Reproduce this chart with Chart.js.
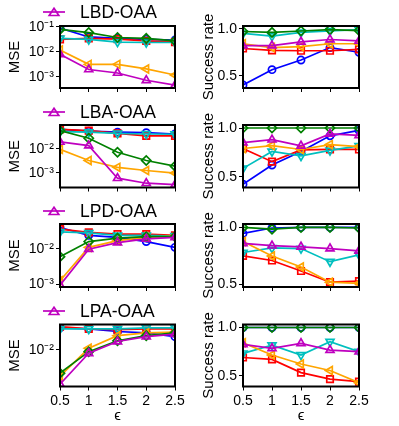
<!DOCTYPE html>
<html><head><meta charset="utf-8">
<script src="https://cdn.jsdelivr.net/npm/chart.js@4/dist/chart.umd.min.js"></script>
<style>
html,body{margin:0;padding:0;background:#fff;}
#wrap{position:relative;width:399px;height:426px;overflow:hidden;background:#fff;}
#wrap canvas{position:absolute;left:0;top:0;}
.leg{position:absolute;left:0;width:399px;height:20px;font-family:"Liberation Sans",Arial,sans-serif;font-size:17.5px;line-height:20px;color:#000;white-space:nowrap;z-index:5;}
.leg span{position:absolute;left:80px;top:0;}
.leg svg{position:absolute;left:0;top:0;}
</style></head><body>
<div id="wrap"></div>
<script>
// ---------- data ----------
const epsLabels = ['0.5', '1', '1.5', '2', '2.5'];
const rowTitles = ['LBD-OAA', 'LBA-OAA', 'LPD-OAA', 'LPA-OAA'];
const seriesKeys = ['circle', 'square', 'diamond', 'tri-down', 'tri-up', 'tri-left'];
const logTickValues = [0.1, 0.01, 0.001];
const rateTickValues = [0.5, 1.0];

// rows: circle(blue), square(red), diamond(green), tri-down(cyan), tri-up(magenta), tri-left(orange)
const mseLBD = [
  [0.09, 0.04, 0.035, 0.032, 0.03],
  [0.032, 0.035, 0.033, 0.028, 0.025],
  [0.08, 0.06, 0.038, 0.035, 0.028],
  [0.035, 0.032, 0.025, 0.024, 0.024],
  [0.0081, 0.002, 0.00145, 0.00074, 0.00047],
  [0.012, 0.0032, 0.0032, 0.0021, 0.0012]
];
const rateLBD = [
  [0.405, 0.566, 0.668, 0.80, 0.75],
  [0.79, 0.77, 0.766, 0.766, 0.78],
  [0.97, 0.96, 0.975, 0.99, 0.98],
  [0.95, 0.92, 0.96, 0.975, 0.99],
  [0.82, 0.82, 0.86, 0.885, 0.87],
  [0.84, 0.80, 0.81, 0.84, 0.84]
];
const mseLBA = [
  [0.066, 0.055, 0.05, 0.048, 0.042],
  [0.066, 0.058, 0.045, 0.035, 0.035],
  [0.058, 0.028, 0.0073, 0.0033, 0.0019],
  [0.053, 0.05, 0.045, 0.042, 0.041],
  [0.0196, 0.0137, 0.0006, 0.00037, 0.00032],
  [0.0097, 0.0033, 0.0017, 0.00126, 0.00098]
];
const rateLBA = [
  [0.424, 0.62, 0.76, 0.92, 0.975],
  [0.79, 0.655, 0.776, 0.78, 0.78],
  [1.0, 1.0, 1.0, 1.0, 1.0],
  [0.586, 0.76, 0.714, 0.77, 0.817],
  [0.85, 0.88, 0.817, 0.94, 0.925],
  [0.79, 0.82, 0.78, 0.83, 0.81]
];
const mseLPD = [
  [0.04, 0.024, 0.021, 0.016, 0.011],
  [0.036, 0.029, 0.026, 0.026, 0.024],
  [0.006, 0.016, 0.02, 0.022, 0.022],
  [0.030, 0.028, 0.024, 0.024, 0.023],
  [0.00095, 0.0098, 0.015, 0.019, 0.021],
  [0.00126, 0.011, 0.017, 0.021, 0.023]
];
const rateLPD = [
  [0.947, 0.995, 1.0, 1.0, 1.0],
  [0.75, 0.71, 0.618, 0.52, 0.53],
  [1.0, 0.985, 1.0, 1.0, 0.995],
  [0.78, 0.82, 0.815, 0.70, 0.76],
  [0.86, 0.84, 0.83, 0.815, 0.795],
  [0.876, 0.75, 0.653, 0.52, 0.51]
];
const mseLPA = [
  [0.037, 0.035, 0.03, 0.0275, 0.022],
  [0.04, 0.035, 0.0336, 0.035, 0.035],
  [0.0025, 0.009, 0.0172, 0.0234, 0.0275],
  [0.035, 0.035, 0.035, 0.037, 0.037],
  [0.0013, 0.0082, 0.0165, 0.022, 0.0255],
  [0.0021, 0.011, 0.0234, 0.0275, 0.029]
];
const rateLPA = [
  [1.0, 1.0, 1.0, 1.0, 1.0],
  [0.69, 0.67, 0.534, 0.466, 0.44],
  [1.0, 1.0, 1.0, 1.0, 1.0],
  [0.733, 0.818, 0.716, 0.853, 0.75],
  [0.825, 0.784, 0.836, 0.767, 0.75],
  [0.842, 0.716, 0.623, 0.555, 0.43]
];
const mseRows = [mseLBD, mseLBA, mseLPD, mseLPA];
const rateRows = [rateLBD, rateLBA, rateLPD, rateLPA];

// ---------- styles / layout ----------
const W = 399, H = 426;
const STYLE = [
  {color: '#0000ff', style: 'circle',   rot: 0,   r: 3.6, order: 6},
  {color: '#ff0000', style: 'rect',     rot: 0,   r: 4.6, order: 5},
  {color: '#008000', style: 'rectRot',  rot: 0,   r: 4.6, order: 2},
  {color: '#00bfbf', style: 'triangle', rot: 180, r: 4.6, order: 4},
  {color: '#bf00bf', style: 'triangle', rot: 0,   r: 4.6, order: 1},
  {color: '#ffa500', style: 'triangle', rot: 270, r: 4.6, order: 3}
];
const rowTop = [26, 125, 224, 324.5];
const rowBot = [88, 187.5, 287, 386.5];
const legY = [12, 112, 211, 311];
const mseRange = [[0.1096, 3.63e-4], [0.1, 2.45e-4], [0.0501, 8.4e-4], [0.0455, 1.13e-3]];
const rateRange = [[0.372, 1.028], [0.39, 1.031], [0.478, 1.03], [0.39, 1.031]];

const FONT = '"Liberation Sans", Arial, sans-serif';
Chart.defaults.font.family = FONT;
Chart.defaults.color = '#000';

const sup = {'-': '\u207B', '1': '\u00B9', '2': '\u00B2', '3': '\u00B3', '4': '\u2074'};
function logLabel(v) {
  const e = Math.round(Math.log10(v));
  return '10' + String(e).split('').map(c => sup[c] || c).join('');
}

const framePlugin = {
  id: 'frame',
  afterDatasetsDraw(chart) {
    const {ctx, chartArea: a} = chart;
    ctx.save();
    ctx.strokeStyle = '#000';
    ctx.lineWidth = 2;
    ctx.strokeRect(a.left, a.top, a.right - a.left, a.bottom - a.top);
    ctx.restore();
  }
};

const wrap = document.getElementById('wrap');

function makeChart(row, isRight) {
  const cv = document.createElement('canvas');
  cv.width = W; cv.height = H;
  cv.style.width = W + 'px'; cv.style.height = H + 'px';
  wrap.appendChild(cv);
  const isBottom = row === 3;
  const values = isRight ? rateRows[row] : mseRows[row];
  const plotLeft = isRight ? 243 : 60;
  const plotRight = isRight ? 359 : 175;
  const padLeft = isRight ? 183 : 0;
  const xH = isBottom ? 39.5 : 4.5;
  const datasets = values.map((vals, i) => {
    const s = STYLE[i];
    return {
      label: (i === 4 ? rowTitles[row] : seriesKeys[i]),
      data: vals,
      borderColor: s.color,
      backgroundColor: s.color,
      pointBorderColor: s.color,
      pointBackgroundColor: 'rgba(0,0,0,0)',
      pointStyle: s.style,
      pointRotation: s.rot,
      pointRadius: s.r,
      pointHoverRadius: s.r,
      pointBorderWidth: 1.7,
      borderWidth: 1.7,
      tension: 0,
      fill: false,
      clip: 0,
      order: s.order
    };
  });
  const yMin = isRight ? rateRange[row][0] : mseRange[row][1];
  const yMax = isRight ? rateRange[row][1] : mseRange[row][0];
  const tickVals = isRight ? rateTickValues : logTickValues;
  new Chart(cv, {
    type: 'line',
    data: {labels: epsLabels, datasets},
    plugins: [framePlugin],
    options: {
      responsive: false,
      animation: false,
      events: [],
      layout: {padding: {left: padLeft, right: W - plotRight, top: rowTop[row], bottom: H - rowBot[row] - xH}},
      plugins: {legend: {display: false}, tooltip: {enabled: false}},
      scales: {
        x: {
          type: 'category',
          offset: false,
          grid: {display: true, drawOnChartArea: false, drawTicks: true, tickLength: 4, color: '#000', lineWidth: 1},
          border: {display: false},
          ticks: {display: isBottom, font: {size: 14}, padding: 2, maxRotation: 0, autoSkip: false, color: '#000'},
          title: {display: isBottom, text: '\u03F5', font: {size: 15}, padding: {top: 0, bottom: 1}, color: '#000'},
          afterFit(s) { s.height = xH; }
        },
        y: {
          type: isRight ? 'linear' : 'logarithmic',
          min: yMin, max: yMax,
          grid: {display: true, drawOnChartArea: false, drawTicks: true, tickLength: 4, color: '#000', lineWidth: 1},
          border: {display: false},
          ticks: {
            font: {size: 14}, padding: 2, autoSkip: false, color: '#000',
            callback: (v) => isRight ? Number(v).toFixed(1) : logLabel(v)
          },
          afterBuildTicks(s) {
            s.ticks = tickVals.filter(v => v >= yMin * 1.001 && v <= yMax * 0.999).map(v => ({value: v}));
          },
          title: {display: true, text: isRight ? 'Success rate' : 'MSE', font: {size: 15}, padding: {top: isRight ? 16.5 : 6, bottom: 0}, color: '#000'},
          afterFit(s) { s.width = plotLeft - padLeft; }
        }
      }
    }
  });
}

for (let r = 0; r < 4; r++) {
  makeChart(r, false);
  makeChart(r, true);
  const d = document.createElement('div');
  d.className = 'leg';
  d.style.top = (legY[r] - 10) + 'px';
  d.innerHTML = '<svg width="72" height="20"><line x1="43" y1="10" x2="65" y2="10" stroke="#bf00bf" stroke-width="1.7"/>' +
    '<polygon points="54,6.3 58.8,13.5 49.2,13.5" fill="none" stroke="#bf00bf" stroke-width="1.7"/></svg>';
  const sp = document.createElement('span');
  sp.textContent = rowTitles[r];
  d.appendChild(sp);
  wrap.appendChild(d);
}
</script>
</body></html>
